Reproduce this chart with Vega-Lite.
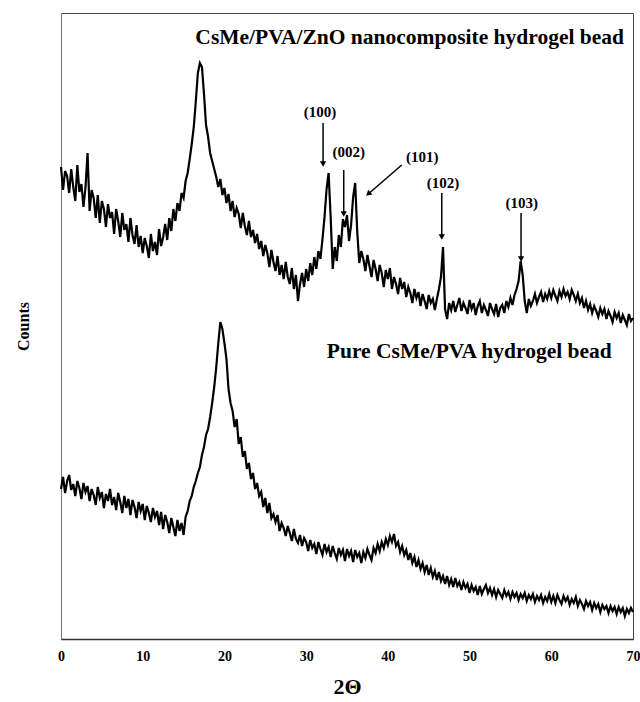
{
  "$schema": "https://vega.github.io/schema/vega-lite/v6.json",
  "width": 572,
  "height": 626,
  "autosize": {"type": "none"},
  "padding": {"left": 61, "top": 13, "right": 7, "bottom": 63},
  "background": "white",
  "config": {
    "view": {"stroke": "#444", "strokeWidth": 1},
    "font": "Liberation Serif"
  },
  "datasets": {
    "xrd": [
      {"x":0,"nano":472,"pure":150},{"x":0.25,"nano":449,"pure":162},{"x":0.5,"nano":468,"pure":146},{"x":0.75,"nano":463,"pure":158},
      {"x":1,"nano":446,"pure":164},{"x":1.25,"nano":470,"pure":149},{"x":1.5,"nano":452,"pure":155},{"x":1.75,"nano":438,"pure":143},
      {"x":2,"nano":474,"pure":158},{"x":2.25,"nano":447,"pure":151},{"x":2.5,"nano":455,"pure":140},{"x":2.75,"nano":432,"pure":156},
      {"x":3,"nano":452,"pure":147},{"x":3.25,"nano":486,"pure":153},{"x":3.5,"nano":428,"pure":138},{"x":3.75,"nano":449,"pure":150},
      {"x":4,"nano":441,"pure":144},{"x":4.25,"nano":421,"pure":134},{"x":4.5,"nano":444,"pure":152},{"x":4.75,"nano":416,"pure":141},
      {"x":5,"nano":438,"pure":147},{"x":5.25,"nano":430,"pure":131},{"x":5.5,"nano":412,"pure":145},{"x":5.75,"nano":435,"pure":138},
      {"x":6,"nano":421,"pure":150},{"x":6.25,"nano":427,"pure":134},{"x":6.5,"nano":405,"pure":142},{"x":6.75,"nano":430,"pure":129},
      {"x":7,"nano":418,"pure":146},{"x":7.25,"nano":402,"pure":137},{"x":7.5,"nano":426,"pure":126},{"x":7.75,"nano":409,"pure":143},
      {"x":8,"nano":415,"pure":131},{"x":8.25,"nano":397,"pure":140},{"x":8.5,"nano":421,"pure":124},{"x":8.75,"nano":404,"pure":139},
      {"x":9,"nano":395,"pure":132},{"x":9.25,"nano":414,"pure":121},{"x":9.5,"nano":392,"pure":137},{"x":9.75,"nano":403,"pure":128},
      {"x":10,"nano":386,"pure":135},{"x":10.25,"nano":401,"pure":119},{"x":10.5,"nano":393,"pure":133},{"x":10.75,"nano":381,"pure":126},
      {"x":11,"nano":405,"pure":117},{"x":11.25,"nano":388,"pure":131},{"x":11.5,"nano":397,"pure":122},{"x":11.75,"nano":384,"pure":128},
      {"x":12,"nano":410,"pure":114},{"x":12.25,"nano":393,"pure":127},{"x":12.5,"nano":402,"pure":110},{"x":12.75,"nano":415,"pure":124},
      {"x":13,"nano":399,"pure":117},{"x":13.25,"nano":421,"pure":106},{"x":13.5,"nano":408,"pure":121},{"x":13.75,"nano":430,"pure":112},
      {"x":14,"nano":418,"pure":103},{"x":14.25,"nano":436,"pure":119},{"x":14.5,"nano":428,"pure":108},{"x":14.75,"nano":446,"pure":116},
      {"x":15,"nano":441,"pure":104},{"x":15.25,"nano":458,"pure":122},{"x":15.5,"nano":466,"pure":128},{"x":15.75,"nano":480,"pure":138},
      {"x":16,"nano":495,"pure":143},{"x":16.25,"nano":512,"pure":152},{"x":16.5,"nano":538,"pure":158},{"x":16.75,"nano":566,"pure":166},
      {"x":17,"nano":576,"pure":172},{"x":17.25,"nano":572,"pure":184},{"x":17.5,"nano":545,"pure":192},{"x":17.75,"nano":514,"pure":204},
      {"x":18,"nano":502,"pure":210},{"x":18.25,"nano":486,"pure":222},{"x":18.5,"nano":478,"pure":236},{"x":18.75,"nano":470,"pure":252},
      {"x":19,"nano":462,"pure":272},{"x":19.25,"nano":452,"pure":296},{"x":19.5,"nano":460,"pure":317},{"x":19.75,"nano":444,"pure":310},
      {"x":20,"nano":451,"pure":296},{"x":20.25,"nano":436,"pure":280},{"x":20.5,"nano":445,"pure":250},{"x":20.75,"nano":428,"pure":236},
      {"x":21,"nano":438,"pure":228},{"x":21.25,"nano":422,"pure":212},{"x":21.5,"nano":431,"pure":220},{"x":21.75,"nano":425,"pure":195},
      {"x":22,"nano":411,"pure":202},{"x":22.25,"nano":426,"pure":182},{"x":22.5,"nano":413,"pure":188},{"x":22.75,"nano":404,"pure":170},
      {"x":23,"nano":418,"pure":176},{"x":23.25,"nano":402,"pure":160},{"x":23.5,"nano":409,"pure":166},{"x":23.75,"nano":396,"pure":150},
      {"x":24,"nano":405,"pure":156},{"x":24.25,"nano":390,"pure":143},{"x":24.5,"nano":398,"pure":147},{"x":24.75,"nano":383,"pure":132},
      {"x":25,"nano":394,"pure":141},{"x":25.25,"nano":386,"pure":126},{"x":25.5,"nano":372,"pure":136},{"x":25.75,"nano":389,"pure":121},
      {"x":26,"nano":377,"pure":125},{"x":26.25,"nano":368,"pure":117},{"x":26.5,"nano":383,"pure":124},{"x":26.75,"nano":364,"pure":108},
      {"x":27,"nano":374,"pure":116},{"x":27.25,"nano":360,"pure":111},{"x":27.5,"nano":377,"pure":103},{"x":27.75,"nano":362,"pure":113},
      {"x":28,"nano":355,"pure":106},{"x":28.25,"nano":371,"pure":98},{"x":28.5,"nano":350,"pure":110},{"x":28.75,"nano":364,"pure":100},
      {"x":29,"nano":338,"pure":96},{"x":29.25,"nano":355,"pure":104},{"x":29.5,"nano":366,"pure":93},{"x":29.75,"nano":352,"pure":101},
      {"x":30,"nano":370,"pure":97},{"x":30.25,"nano":358,"pure":88},{"x":30.5,"nano":376,"pure":99},{"x":30.75,"nano":364,"pure":91},
      {"x":31,"nano":382,"pure":95},{"x":31.25,"nano":370,"pure":85},{"x":31.5,"nano":388,"pure":97},{"x":31.75,"nano":380,"pure":90},
      {"x":32,"nano":400,"pure":84},{"x":32.25,"nano":422,"pure":95},{"x":32.5,"nano":450,"pure":87},{"x":32.75,"nano":466,"pure":92},
      {"x":33,"nano":422,"pure":82},{"x":33.25,"nano":370,"pure":93},{"x":33.5,"nano":392,"pure":86},{"x":33.75,"nano":378,"pure":80},
      {"x":34,"nano":404,"pure":91},{"x":34.25,"nano":392,"pure":84},{"x":34.5,"nano":420,"pure":89},{"x":34.75,"nano":412,"pure":78},
      {"x":35,"nano":424,"pure":90},{"x":35.25,"nano":398,"pure":83},{"x":35.5,"nano":414,"pure":88},{"x":35.75,"nano":442,"pure":77},
      {"x":36,"nano":456,"pure":89},{"x":36.25,"nano":408,"pure":82},{"x":36.5,"nano":376,"pure":86},{"x":36.75,"nano":388,"pure":76},
      {"x":37,"nano":380,"pure":87},{"x":37.25,"nano":368,"pure":81},{"x":37.5,"nano":384,"pure":90},{"x":37.75,"nano":373,"pure":84},
      {"x":38,"nano":362,"pure":79},{"x":38.25,"nano":379,"pure":91},{"x":38.5,"nano":370,"pure":86},{"x":38.75,"nano":358,"pure":95},
      {"x":39,"nano":374,"pure":88},{"x":39.25,"nano":366,"pure":97},{"x":39.5,"nano":352,"pure":91},{"x":39.75,"nano":369,"pure":100},
      {"x":40,"nano":360,"pure":94},{"x":40.25,"nano":371,"pure":103},{"x":40.5,"nano":350,"pure":97},{"x":40.75,"nano":362,"pure":105},
      {"x":41,"nano":355,"pure":93},{"x":41.25,"nano":345,"pure":97},{"x":41.5,"nano":361,"pure":87},{"x":41.75,"nano":350,"pure":93},
      {"x":42,"nano":357,"pure":84},{"x":42.25,"nano":342,"pure":89},{"x":42.5,"nano":352,"pure":79},{"x":42.75,"nano":346,"pure":86},
      {"x":43,"nano":336,"pure":76},{"x":43.25,"nano":350,"pure":82},{"x":43.5,"nano":341,"pure":72},{"x":43.75,"nano":347,"pure":79},
      {"x":44,"nano":333,"pure":70},{"x":44.25,"nano":345,"pure":76},{"x":44.5,"nano":338,"pure":67},{"x":44.75,"nano":330,"pure":74},
      {"x":45,"nano":344,"pure":64},{"x":45.25,"nano":336,"pure":71},{"x":45.5,"nano":340,"pure":62},{"x":45.75,"nano":329,"pure":68},
      {"x":46,"nano":340,"pure":59},{"x":46.25,"nano":350,"pure":67},{"x":46.5,"nano":362,"pure":58},{"x":46.75,"nano":392,"pure":63},
      {"x":47,"nano":330,"pure":55},{"x":47.25,"nano":320,"pure":63},{"x":47.5,"nano":336,"pure":54},{"x":47.75,"nano":329,"pure":60},
      {"x":48,"nano":338,"pure":52},{"x":48.25,"nano":327,"pure":61},{"x":48.5,"nano":334,"pure":53},{"x":48.75,"nano":341,"pure":57},
      {"x":49,"nano":328,"pure":49},{"x":49.25,"nano":336,"pure":57},{"x":49.5,"nano":331,"pure":51},{"x":49.75,"nano":325,"pure":55},
      {"x":50,"nano":339,"pure":46},{"x":50.25,"nano":330,"pure":54},{"x":50.5,"nano":336,"pure":48},{"x":50.75,"nano":324,"pure":52},
      {"x":51,"nano":333,"pure":44},{"x":51.25,"nano":338,"pure":53},{"x":51.5,"nano":326,"pure":45},{"x":51.75,"nano":334,"pure":50},
      {"x":52,"nano":329,"pure":54},{"x":52.25,"nano":323,"pure":46},{"x":52.5,"nano":336,"pure":51},{"x":52.75,"nano":330,"pure":44},
      {"x":53,"nano":325,"pure":50},{"x":53.25,"nano":335,"pure":42},{"x":53.5,"nano":322,"pure":49},{"x":53.75,"nano":331,"pure":45},
      {"x":54,"nano":334,"pure":41},{"x":54.25,"nano":326,"pure":49},{"x":54.5,"nano":338,"pure":43},{"x":54.75,"nano":332,"pure":47},
      {"x":55,"nano":341,"pure":40},{"x":55.25,"nano":334,"pure":47},{"x":55.5,"nano":344,"pure":42},{"x":55.75,"nano":350,"pure":46},
      {"x":56,"nano":358,"pure":39},{"x":56.25,"nano":378,"pure":45},{"x":56.5,"nano":364,"pure":41},{"x":56.75,"nano":338,"pure":46},
      {"x":57,"nano":326,"pure":38},{"x":57.25,"nano":340,"pure":44},{"x":57.5,"nano":333,"pure":40},{"x":57.75,"nano":338,"pure":45},
      {"x":58,"nano":345,"pure":37},{"x":58.25,"nano":336,"pure":43},{"x":58.5,"nano":342,"pure":39},{"x":58.75,"nano":347,"pure":44},
      {"x":59,"nano":337,"pure":36},{"x":59.25,"nano":345,"pure":42},{"x":59.5,"nano":340,"pure":38},{"x":59.75,"nano":348,"pure":45},
      {"x":60,"nano":341,"pure":37},{"x":60.25,"nano":349,"pure":43},{"x":60.5,"nano":343,"pure":36},{"x":60.75,"nano":338,"pure":44},
      {"x":61,"nano":348,"pure":39},{"x":61.25,"nano":342,"pure":35},{"x":61.5,"nano":350,"pure":43},{"x":61.75,"nano":343,"pure":38},
      {"x":62,"nano":347,"pure":42},{"x":62.25,"nano":340,"pure":34},{"x":62.5,"nano":349,"pure":40},{"x":62.75,"nano":344,"pure":36},
      {"x":63,"nano":338,"pure":42},{"x":63.25,"nano":345,"pure":33},{"x":63.5,"nano":336,"pure":39},{"x":63.75,"nano":341,"pure":35},
      {"x":64,"nano":331,"pure":30},{"x":64.25,"nano":338,"pure":38},{"x":64.5,"nano":329,"pure":33},{"x":64.75,"nano":335,"pure":37},
      {"x":65,"nano":326,"pure":29},{"x":65.25,"nano":333,"pure":36},{"x":65.5,"nano":328,"pure":31},{"x":65.75,"nano":322,"pure":35},
      {"x":66,"nano":331,"pure":27},{"x":66.25,"nano":325,"pure":34},{"x":66.5,"nano":330,"pure":30},{"x":66.75,"nano":320,"pure":33},
      {"x":67,"nano":328,"pure":26},{"x":67.25,"nano":323,"pure":33},{"x":67.5,"nano":317,"pure":28},{"x":67.75,"nano":327,"pure":32},
      {"x":68,"nano":321,"pure":25},{"x":68.25,"nano":326,"pure":32},{"x":68.5,"nano":316,"pure":27},{"x":68.75,"nano":324,"pure":31},
      {"x":69,"nano":319,"pure":23},{"x":69.25,"nano":314,"pure":30},{"x":69.5,"nano":325,"pure":26},{"x":69.75,"nano":318,"pure":31},
      {"x":70,"nano":321,"pure":27}
    ],
    "peaks": [
      {"label": "(100)", "tx": 31.7, "ty": 527, "ax": 32.07, "ay": 516, "bx": 32.07, "by": 475, "dir": "down"},
      {"label": "(002)", "tx": 35.2, "ty": 487, "ax": 34.6, "ay": 469, "bx": 34.6, "by": 425, "dir": "down"},
      {"label": "(101)", "tx": 44.2, "ty": 482, "ax": 41.7, "ay": 474, "bx": 37.6, "by": 445, "dir": "diag"},
      {"label": "(102)", "tx": 46.75, "ty": 456, "ax": 46.6, "ay": 446, "bx": 46.6, "by": 402, "dir": "down"},
      {"label": "(103)", "tx": 56.4, "ty": 436, "ax": 56.3, "ay": 426, "bx": 56.3, "by": 380, "dir": "down"}
    ],
    "titles": [
      {"name": "CsMe/PVA/ZnO nanocomposite hydrogel bead", "tx": 68.9, "ty": 601},
      {"name": "Pure CsMe/PVA hydrogel bead", "tx": 67.4, "ty": 287}
    ]
  },
  "layer": [
    {
      "data": {"name": "xrd"},
      "transform": [{"fold": ["nano", "pure"], "as": ["sample", "counts"]}],
      "mark": {"type": "line", "color": "black", "strokeWidth": 2.2, "interpolate": "linear"},
      "encoding": {
        "x": {
          "field": "x", "type": "quantitative",
          "scale": {"domain": [0, 70], "nice": false, "zero": false},
          "axis": {
            "title": "2Θ", "values": [0, 10, 20, 30, 40, 50, 60, 70],
            "ticks": false, "tickSize": 0, "grid": false,
            "domainColor": "#333", "domainWidth": 1.5,
            "labelFont": "Liberation Serif", "labelFontWeight": "bold", "labelFontSize": 14, "labelColor": "black",
            "labelPadding": 10, "labelFlush": false,
            "titleFont": "Liberation Serif", "titleFontWeight": "bold", "titleFontSize": 22, "titleColor": "black",
            "titlePadding": 13
          }
        },
        "y": {
          "field": "counts", "type": "quantitative",
          "scale": {"domain": [0, 626], "nice": false, "zero": false},
          "axis": {
            "title": "Counts", "labels": false, "ticks": false, "tickSize": 0, "grid": false,
            "domainColor": "#777", "domainWidth": 1,
            "titleFont": "Liberation Serif", "titleFontWeight": "bold", "titleFontSize": 16, "titleColor": "black",
            "titlePadding": 30
          }
        },
        "detail": {"field": "sample"}
      }
    },
    {
      "data": {"name": "peaks"},
      "mark": {"type": "rule", "color": "black", "strokeWidth": 1.5},
      "encoding": {
        "x": {"field": "ax", "type": "quantitative"},
        "y": {"field": "ay", "type": "quantitative"},
        "x2": {"field": "bx"},
        "y2": {"field": "by"}
      }
    },
    {
      "data": {"name": "peaks"},
      "transform": [{"filter": "datum.dir === 'down'"}],
      "mark": {"type": "point", "shape": "triangle-down", "filled": true, "color": "black", "size": 40, "opacity": 1},
      "encoding": {
        "x": {"field": "bx", "type": "quantitative"},
        "y": {"field": "by", "type": "quantitative"}
      }
    },
    {
      "data": {"name": "peaks"},
      "transform": [{"filter": "datum.dir === 'diag'"}],
      "mark": {"type": "point", "shape": "triangle-down", "filled": true, "color": "black", "size": 40, "opacity": 1, "angle": 48},
      "encoding": {
        "x": {"field": "bx", "type": "quantitative"},
        "y": {"field": "by", "type": "quantitative"}
      }
    },
    {
      "data": {"name": "peaks"},
      "mark": {"type": "text", "font": "Liberation Serif", "fontWeight": "bold", "fontSize": 15, "color": "black", "align": "center", "baseline": "middle"},
      "encoding": {
        "x": {"field": "tx", "type": "quantitative"},
        "y": {"field": "ty", "type": "quantitative"},
        "text": {"field": "label"}
      }
    },
    {
      "data": {"name": "titles"},
      "mark": {"type": "text", "font": "Liberation Serif", "fontWeight": "bold", "fontSize": 21.5, "color": "black", "align": "right", "baseline": "middle"},
      "encoding": {
        "x": {"field": "tx", "type": "quantitative"},
        "y": {"field": "ty", "type": "quantitative"},
        "text": {"field": "name"}
      }
    }
  ]
}
